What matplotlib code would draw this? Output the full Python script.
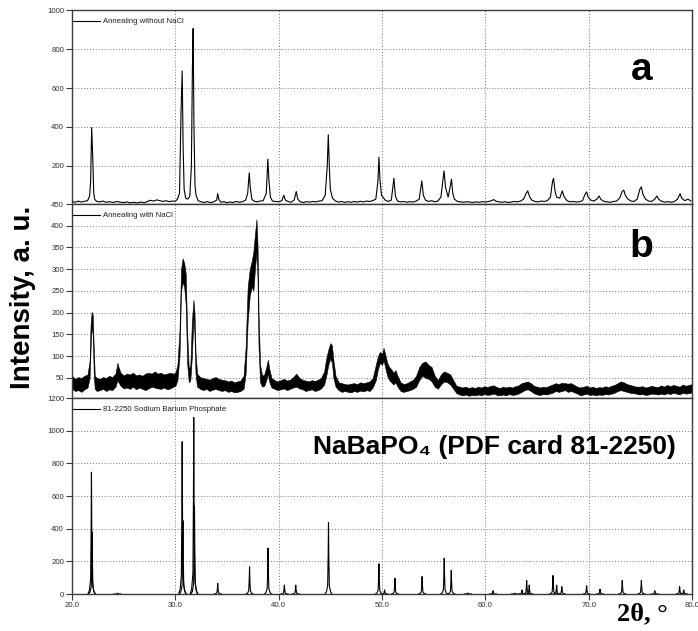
import numpy as np
import matplotlib
matplotlib.use('Agg')
import matplotlib.pyplot as plt

plt.rcParams['font.family'] = ['Liberation Sans', 'DejaVu Sans']

# %%
# Pattern (a): annealing without NaCl -- 2theta (deg) and intensity
tt_a = [20.0, 20.3, 20.6, 20.9, 21.2, 21.5, 21.7, 21.8, 21.9, 22.0, 22.1, 22.2, 22.4, 22.7,
        23.0, 23.3, 23.6, 24.0, 24.3, 24.6, 25.0, 25.3, 25.6, 26.0, 26.3, 26.6, 27.0, 27.3,
        27.6, 27.9, 28.2, 28.5, 28.8, 29.1, 29.4, 29.7, 30.0, 30.2, 30.4, 30.55, 30.66, 30.75,
        30.85, 31.0, 31.2, 31.4, 31.55, 31.65, 31.72, 31.8, 31.9, 32.0, 32.2, 32.5, 32.8, 33.1,
        33.4, 33.7, 34.0, 34.1, 34.2, 34.4, 34.7, 35.0, 35.3, 35.6, 35.9, 36.2, 36.5, 36.8,
        37.0, 37.15, 37.25, 37.4, 37.6, 37.9, 38.2, 38.5, 38.8, 38.95, 39.05, 39.2, 39.4, 39.7,
        40.0, 40.3, 40.5, 40.65, 40.9, 41.2, 41.5, 41.7, 41.85, 42.1, 42.4, 42.7, 43.0, 43.3,
        43.6, 43.9, 44.2, 44.5, 44.7, 44.8, 44.9, 45.0, 45.2, 45.5, 45.8, 46.1, 46.4, 46.7,
        47.0, 47.3, 47.6, 47.9, 48.2, 48.5, 48.8, 49.1, 49.4, 49.6, 49.7, 49.8, 49.95, 50.1,
        50.3, 50.6, 50.9, 51.05, 51.15, 51.3, 51.5, 51.8, 52.1, 52.4, 52.7, 53.0, 53.3, 53.6,
        53.85, 54.0, 54.2, 54.5, 54.8, 55.1, 55.4, 55.7, 55.9, 56.0, 56.15, 56.4, 56.6, 56.72,
        56.85, 57.0, 57.3, 57.6, 57.9, 58.2, 58.5, 58.8, 59.1, 59.4, 59.7, 60.0, 60.3, 60.6,
        60.8, 61.0, 61.3, 61.6, 61.9, 62.2, 62.5, 62.8, 63.1, 63.4, 63.7, 63.95, 64.1, 64.3,
        64.5, 64.8, 65.1, 65.4, 65.7, 66.0, 66.3, 66.5, 66.6, 66.75, 66.9, 67.2, 67.45, 67.6,
        67.9, 68.2, 68.5, 68.8, 69.1, 69.4, 69.65, 69.8, 69.95, 70.2, 70.5, 70.8, 71.0, 71.2,
        71.5, 71.8, 72.1, 72.4, 72.7, 73.0, 73.25, 73.4, 73.55, 73.8, 74.1, 74.4, 74.7, 74.95,
        75.1, 75.25, 75.5, 75.8, 76.1, 76.4, 76.6, 76.8, 77.1, 77.4, 77.7, 78.0, 78.3, 78.6,
        78.85, 79.0, 79.3, 79.6, 79.9]
int_a = [18, 14, 20, 15, 19, 22, 45, 120, 397, 250, 60, 28, 18, 16,
         20, 14, 17, 13, 18, 15, 12, 16, 11, 14, 10, 15, 12, 18,
         24, 20, 26, 22, 18, 22, 17, 20, 19, 30, 60, 476, 687, 300,
         80, 35, 30, 45, 200, 700, 905, 400, 100, 50, 22, 16, 13, 17,
         12, 16, 25, 58, 30, 14, 17, 12, 15, 13, 18, 14, 17, 25,
         60, 165, 90, 30, 20, 16, 20, 22, 60, 235, 130, 40, 20, 18,
         16, 22, 50, 25, 18, 14, 25, 69, 30, 16, 13, 17, 15, 18,
         16, 20, 22, 50, 200, 360, 200, 80, 35, 20, 15, 18, 13, 17,
         14, 18, 15, 19, 16, 20, 18, 22, 30, 120, 245, 130, 50, 40,
         25, 18, 25, 90, 137, 45, 20, 16, 18, 14, 17, 15, 20, 30,
         124, 50, 25, 18, 22, 16, 20, 40, 130, 175, 90, 40, 95, 132,
         60, 30, 18, 16, 14, 17, 15, 13, 16, 14, 17, 15, 18, 22,
         28, 20, 16, 14, 17, 13, 15, 18, 16, 20, 30, 60, 72, 40,
         25, 18, 16, 20, 18, 22, 40, 120, 137, 70, 40, 35, 72, 45,
         22, 16, 18, 15, 17, 22, 55, 67, 40, 25, 20, 30, 46, 28,
         18, 16, 14, 18, 20, 35, 70, 76, 50, 30, 20, 18, 30, 80,
         93, 55, 30, 20, 18, 30, 46, 28, 18, 15, 17, 14, 18, 30,
         58, 35, 22, 30, 20]

# %%
# Pattern (b): annealing with NaCl -- very noisy, so kept as lower/upper edge of the noise band
tt_b = [20.0, 20.3, 20.6, 20.9, 21.2, 21.5, 21.7, 21.8, 21.9, 22.0, 22.1, 22.2, 22.4, 22.7,
        23.0, 23.3, 23.6, 23.9, 24.2, 24.4, 24.5, 24.7, 25.0, 25.3, 25.6, 25.9, 26.2, 26.5,
        26.8, 27.1, 27.4, 27.7, 28.0, 28.3, 28.6, 28.9, 29.2, 29.5, 29.8, 30.0, 30.2, 30.4,
        30.55, 30.7, 30.85, 31.0, 31.15, 31.3, 31.45, 31.6, 31.75, 31.85, 31.95, 32.1, 32.4, 32.7,
        33.0, 33.3, 33.6, 33.9, 34.2, 34.5, 34.8, 35.1, 35.4, 35.7, 36.0, 36.3, 36.6, 36.8,
        37.0, 37.2, 37.4, 37.55, 37.7, 37.85, 37.95, 38.05, 38.2, 38.4, 38.6, 38.8, 38.95, 39.1,
        39.3, 39.6, 39.9, 40.2, 40.5, 40.8, 41.1, 41.4, 41.7, 42.0, 42.3, 42.6, 42.9, 43.2,
        43.5, 43.8, 44.1, 44.4, 44.6, 44.8, 45.0, 45.15, 45.3, 45.5, 45.8, 46.1, 46.4, 46.7,
        47.0, 47.3, 47.6, 47.9, 48.2, 48.5, 48.8, 49.1, 49.4, 49.6, 49.8, 50.0, 50.15, 50.3,
        50.5, 50.7, 50.9, 51.1, 51.3, 51.5, 51.8, 52.1, 52.4, 52.7, 53.0, 53.3, 53.6, 53.9,
        54.2, 54.5, 54.8, 55.1, 55.4, 55.7, 56.0, 56.3, 56.6, 56.9, 57.2, 57.5, 57.8, 58.1,
        58.4, 58.7, 59.0, 59.3, 59.6, 59.9, 60.2, 60.5, 60.8, 61.1, 61.4, 61.7, 62.0, 62.3,
        62.6, 62.9, 63.2, 63.5, 63.8, 64.1, 64.4, 64.7, 65.0, 65.3, 65.6, 65.9, 66.2, 66.5,
        66.8, 67.1, 67.4, 67.7, 68.0, 68.3, 68.6, 68.9, 69.2, 69.5, 69.8, 70.1, 70.4, 70.7,
        71.0, 71.3, 71.6, 71.9, 72.2, 72.5, 72.8, 73.1, 73.4, 73.7, 74.0, 74.3, 74.6, 74.9,
        75.2, 75.5, 75.8, 76.1, 76.4, 76.7, 77.0, 77.3, 77.6, 77.9, 78.2, 78.5, 78.8, 79.1,
        79.4, 79.7, 80.0]
lo_b = [25, 20, 22, 18, 24, 28, 50, 120, 170, 150, 60, 25, 20, 22,
        25, 20, 24, 22, 30, 45, 40, 32, 26, 28, 25, 30, 24, 28,
        25, 22, 26, 30, 28, 26, 25, 28, 24, 26, 30, 32, 45, 100,
        250, 270, 260, 220, 80, 40, 45, 100, 190, 150, 60, 30, 25, 22,
        25, 20, 23, 25, 22, 20, 22, 18, 20, 17, 18, 20, 25, 60,
        180, 240, 260, 250, 300, 340, 280, 120, 40, 30, 32, 45, 60, 40,
        28, 25, 22, 24, 26, 22, 25, 28, 30, 26, 24, 20, 22, 24,
        20, 22, 26, 35, 55, 80, 95, 85, 50, 30, 22, 18, 20, 18,
        17, 20, 18, 21, 19, 22, 20, 28, 45, 70, 85, 80, 90, 75,
        55, 45, 40, 35, 40, 30, 20, 18, 20, 22, 25, 30, 45, 55,
        50, 48, 42, 30, 25, 35, 42, 40, 35, 25, 15, 12, 10, 12,
        9, 11, 10, 12, 10, 13, 11, 12, 14, 11, 10, 12, 10, 13,
        11, 12, 14, 18, 22, 24, 20, 15, 12, 11, 13, 12, 14, 16,
        20, 18, 20, 22, 18, 20, 17, 14, 10, 12, 14, 11, 12, 10,
        12, 11, 13, 12, 14, 16, 20, 22, 20, 18, 16, 15, 14, 12,
        13, 11, 12, 14, 13, 12, 14, 12, 15, 13, 16, 14, 12, 16,
        14, 15, 17]
hi_b = [55, 48, 52, 50, 55, 58, 90, 175, 202, 195, 120, 55, 50, 48,
        52, 50, 55, 52, 60, 85, 75, 62, 56, 60, 58, 62, 56, 58,
        55, 60, 62, 60, 65, 60, 62, 58, 60, 62, 60, 62, 80, 160,
        300, 325, 315, 290, 150, 70, 80, 180, 230, 200, 110, 60, 52, 50,
        48, 46, 50, 52, 48, 46, 45, 42, 44, 40, 42, 44, 55, 120,
        260, 300, 320, 340, 380, 415, 360, 200, 80, 55, 58, 75, 92, 70,
        50, 45, 42, 45, 48, 44, 46, 52, 60, 50, 46, 44, 42, 45,
        43, 46, 50, 65, 95, 115, 130, 125, 90, 55, 40, 38, 36, 35,
        37, 38, 36, 40, 38, 40, 42, 50, 80, 100, 110, 105, 119, 105,
        85, 75, 70, 62, 68, 55, 40, 36, 38, 42, 46, 55, 75, 85,
        88, 80, 75, 55, 45, 58, 65, 62, 58, 45, 32, 30, 28, 30,
        27, 29, 27, 30, 28, 31, 29, 32, 33, 29, 27, 30, 28, 30,
        28, 31, 33, 38, 40, 42, 38, 32, 30, 28, 30, 29, 32, 35,
        38, 36, 39, 38, 37, 38, 34, 30, 28, 30, 32, 28, 30, 27,
        29, 28, 31, 29, 32, 34, 38, 42, 40, 36, 34, 32, 30, 30,
        31, 28, 30, 32, 30, 29, 33, 30, 34, 31, 34, 32, 30, 35,
        32, 34, 36]

# %%
# Reference card 81-2250 (NaBaPO4): peak positions and relative intensities
card_pos = [21.88, 21.94, 24.40, 30.66, 30.73, 31.78, 31.85, 34.10, 37.18, 38.97,
            40.55, 41.65, 44.82, 49.70, 50.25, 51.25, 53.88, 56.02, 56.70, 58.30,
            60.75, 62.85, 63.55, 64.00, 64.25, 66.55, 66.90, 67.40, 69.80, 71.10,
            73.25, 75.10, 76.40, 78.80, 79.20]
card_int = [746, 380, 5, 933, 450, 1081, 540, 65, 166, 281,
            55, 55, 437, 185, 25, 96, 107, 219, 144, 6,
            20, 5, 25, 82, 55, 113, 55, 45, 50, 30,
            82, 82, 20, 45, 25]

legend_labels = ['Annealing without NaCl', 'Annealing with NaCl',
                 '81-2250 Sodium Barium Phosphate']

# %%
fig = plt.figure(figsize=(6.98, 6.31), dpi=100)
left, width, h = 0.1032, 0.8882, 0.3074
ax_a = fig.add_axes([left, 0.6767, width, h])
ax_b = fig.add_axes([left, 0.3693, width, h])
ax_c = fig.add_axes([left, 0.0586, width, 0.3106])

spine_col = '#3a3a3a'
for ax in (ax_a, ax_b, ax_c):
    ax.set_xlim(20, 80)
    ax.set_xticks(np.arange(20, 81, 10))
    ax.grid(True, linestyle=(0, (1, 2)), color='#777777', linewidth=0.7)
    ax.set_axisbelow(True)
    for sp in ax.spines.values():
        sp.set_color(spine_col)
        sp.set_linewidth(1.0)
    ax.tick_params(axis='y', direction='out', length=4.5, width=0.8, pad=1.2,
                   colors=spine_col, labelsize=5.6, labelcolor='#303030')
    ax.tick_params(axis='x', direction='out', length=4.5, width=0.8, pad=1.0,
                   colors=spine_col, labelsize=5.6, labelcolor='#303030')

for ax in (ax_a, ax_b):
    ax.tick_params(axis='x', length=0, labelbottom=False)

ax_c.set_xticklabels([f'{v:.1f}' for v in np.arange(20, 81, 10)])

# panel a
ax_a.plot(tt_a, int_a, color='black', lw=0.8)
ax_a.set_ylim(5, 1000)
ax_a.set_yticks([200, 400, 600, 800, 1000])

# panel b
ax_b.fill_between(tt_b, lo_b, hi_b, facecolor='black', edgecolor='black', lw=0.4)
ax_b.set_ylim(4, 450)
ax_b.set_yticks(np.arange(50, 451, 50))

# panel c: each card line drawn as a narrow peak profile
for pos, inten in zip(card_pos, card_int):
    ax_c.plot(pos + np.array([-0.35, -0.2, -0.08, -0.03, 0, 0.03, 0.08, 0.2, 0.35]),
              inten * np.array([0, 0.03, 0.12, 0.55, 1, 0.55, 0.12, 0.03, 0]),
              color='black', lw=0.8)
ax_c.set_ylim(0, 1200)
ax_c.set_yticks(np.arange(0, 1201, 200))

# legend-like captions in each panel
for ax, lab in zip((ax_a, ax_b, ax_c), legend_labels):
    ax.plot([0, 0.045], [0.943, 0.943], transform=ax.transAxes, color='black', lw=0.8)
    ax.text(0.0495, 0.943, lab, transform=ax.transAxes, fontsize=5.6,
            va='center', ha='left', color='#202020')

ax_a.text(0.919, 0.69, 'a', transform=ax_a.transAxes, fontsize=28,
          fontweight='bold', ha='center', va='center')
ax_b.text(0.919, 0.78, 'b', transform=ax_b.transAxes, fontsize=28,
          fontweight='bold', ha='center', va='center')
ax_c.text(0.682, 0.752, 'NaBaPO\u2084 (PDF card 81-2250)', transform=ax_c.transAxes,
          fontsize=19, fontweight='bold', ha='center', va='center')

fig.text(0.033, 0.528, 'Intensity, a. u.', rotation=90, fontsize=20,
         fontweight='bold', ha='center', va='center')
fig.text(0.8835, 0.0174, '2\u03b8, \u00b0', fontsize=19, fontweight='bold',
         family=['Liberation Serif', 'DejaVu Serif'], ha='left', va='baseline')

fig.savefig('out.png', dpi=100)
